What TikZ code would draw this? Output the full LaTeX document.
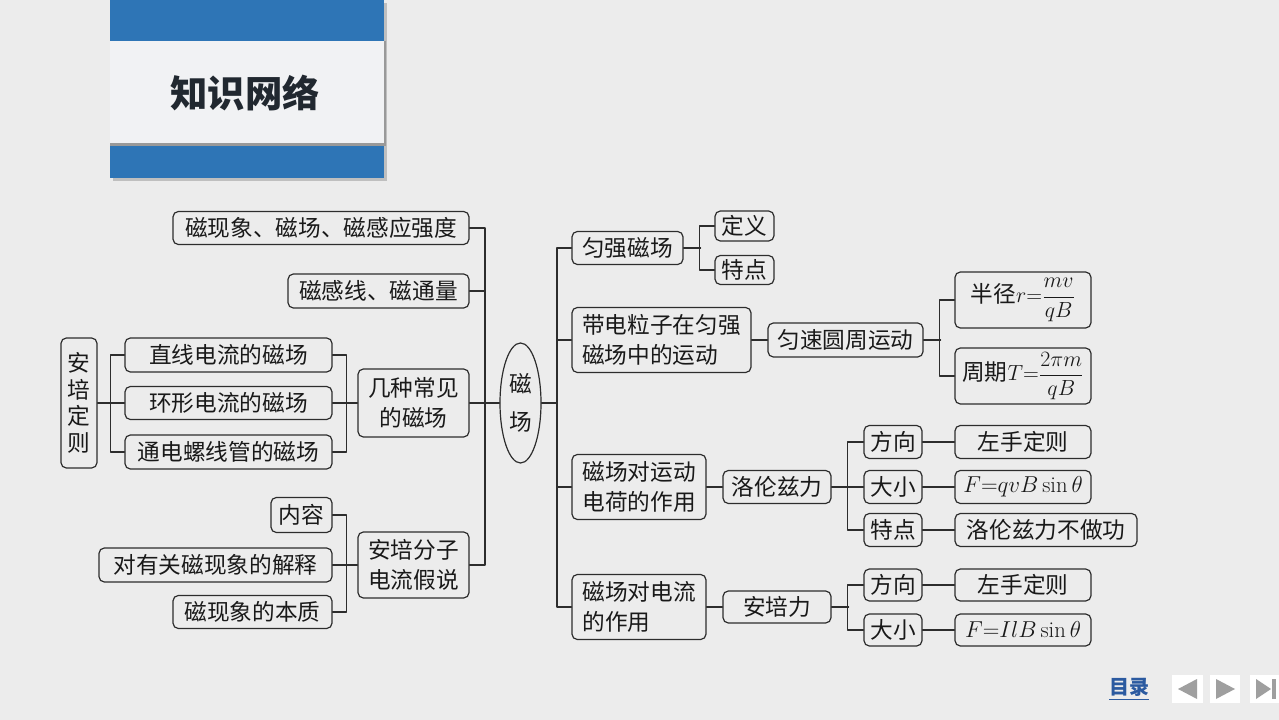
\documentclass[tikz,border=0pt]{standalone}
\usepackage{amsmath}
\usepackage{fontspec}
\newfontfamily\cjk{Noto Sans CJK SC}
\usetikzlibrary{shapes.geometric}

\definecolor{bgGray}{RGB}{236,236,236}
\definecolor{bannerBlue}{RGB}{46,117,182}
\definecolor{panelGray}{RGB}{241,242,244}
\definecolor{lineGray}{RGB}{45,45,45}
\definecolor{inkBlack}{RGB}{25,25,25}
\definecolor{titleInk}{RGB}{33,40,48}
\definecolor{navBlue}{RGB}{43,90,160}

\newcommand{\frm}[1]{\scalebox{0.95}{$#1$}}

\begin{document}
\begin{tikzpicture}[x=0.75pt, y=-0.75pt, line cap=round, line join=round,
  box/.style={draw=lineGray, line width=0.9pt, rounded corners=4pt, inner sep=0pt,
    font=\cjk\fontsize{17}{23}\selectfont, text=inkBlack},
  wd/.style={minimum width={#1*0.75pt}},
  ht/.style={minimum height={#1*0.75pt}},
  link/.style={draw=lineGray, line width=0.9pt}]

  % Page and margins
  \useasboundingbox (0,0) rectangle (1279,720);
  \fill[bgGray] (0,0) rectangle (1279,720);

  % Title banner
  \fill[black!25] (113,3) rectangle (387,181);
  \fill[bannerBlue] (110,0) rectangle (384,178);
  \fill[black!40] (110,41) rectangle (386,146);
  \fill[panelGray] (110,41) rectangle (384,143);
  \node[font=\cjk\bfseries\fontsize{28}{30}\selectfont, text=titleInk] (title) at (245,93) {知识网络};

  % Centre
  \node[box, ellipse, rounded corners=0pt, wd=41, ht=120, align=center,
    font=\cjk\fontsize{17}{28}\selectfont] (cc) at (520.5,403) {磁\\场};
  \coordinate (busL) at (485,403);
  \coordinate (busR) at (557,403);

  % Left branch
  \node[box, wd=296, ht=33] (xxcc) at (321,228) {磁现象、磁场、磁感应强度};
  \node[box, wd=181, ht=34] (gxl)  at (378.5,291) {磁感线、磁通量};
  \node[box, wd=111, ht=68, align=center] (jz) at (413.5,403) {几种常见\\的磁场};
  \node[box, wd=111, ht=66, align=center] (fz) at (413.5,565) {安培分子\\电流假说};

  \node[box, wd=207, ht=34] (zx) at (228.5,355) {直线电流的磁场};
  \node[box, wd=207, ht=33] (hx) at (228.5,403) {环形电流的磁场};
  \node[box, wd=207, ht=34] (lx) at (228.5,452) {通电螺线管的磁场};
  \node[box, wd=36, ht=130, align=center,
    font=\cjk\fontsize{17}{20}\selectfont] (apr) at (79,403) {安\\培\\定\\则};

  \node[box, wd=61,  ht=35] (nr)  at (301.5,515) {内容};
  \node[box, wd=233, ht=34] (jsh) at (215.5,565) {对有关磁现象的解释};
  \node[box, wd=159, ht=33] (bz)  at (252.5,612) {磁现象的本质};

  \draw[link] (xxcc.east) -- (xxcc.east -| busL) -- (fz.east -| busL) -- (fz.east);
  \draw[link] (gxl.east) -- (gxl.east -| busL);
  \draw[link] (jz.east) -- (cc.west);
  \draw[link] (apr.east) -- (hx.west);
  \draw[link] (zx.west) -- ++(-14,0) |- (lx.west);
  \draw[link] (zx.east) -- ++(14,0) |- (lx.east);
  \draw[link] (hx.east) -- (jz.west);
  \draw[link] (nr.east) -- ++(14,0) |- (bz.east);
  \draw[link] (jsh.east) -- (fz.west);

  % Right branch
  \node[box, wd=111, ht=33] (yq)  at (627.5,248) {匀强磁场};
  \node[box, wd=59,  ht=30] (dy)  at (744.5,226) {定义};
  \node[box, wd=59,  ht=29] (td)  at (744.5,270) {特点};

  \node[box, wd=179, ht=65, align=left] (ddl) at (661.5,340) {带电粒子在匀强\\磁场中的运动};
  \node[box, wd=155, ht=34] (ys) at (845.5,340) {匀速圆周运动};
  \node[box, wd=136, ht=56] (bj) at (1023,300) {半径\frm{r{=}\dfrac{mv}{qB}}};
  \node[box, wd=136, ht=56] (zq) at (1023,376) {周期\frm{T{=}\dfrac{2\pi m}{qB}}};

  \node[box, wd=134, ht=65, align=left] (yd) at (639,487) {磁场对运动\\电荷的作用};
  \node[box, wd=108, ht=33] (lz)   at (777,487) {洛伦兹力};
  \node[box, wd=58,  ht=33] (fx1)  at (893,442) {方向};
  \node[box, wd=58,  ht=33] (dx1)  at (893,487) {大小};
  \node[box, wd=58,  ht=33] (td2)  at (893,530) {特点};
  \node[box, wd=136, ht=33] (zsd1) at (1023,442) {左手定则};
  \node[box, wd=136, ht=33] (gs1)  at (1023,487) {$F{=}qvB\sin\theta$};
  \node[box, wd=182, ht=33] (bzg)  at (1046,530) {洛伦兹力不做功};

  \node[box, wd=134, ht=65, align=left] (dl) at (639,607) {磁场对电流\\的作用};
  \node[box, wd=108, ht=32] (apl)  at (777,607) {安培力};
  \node[box, wd=58,  ht=32] (fx2)  at (893,585) {方向};
  \node[box, wd=58,  ht=32] (dx2)  at (893,630) {大小};
  \node[box, wd=136, ht=32] (zsd2) at (1023,585) {左手定则};
  \node[box, wd=136, ht=32] (gs2)  at (1023,630) {$F{=}IlB\sin\theta$};

  \draw[link] (cc.east) -- (busR);
  \draw[link] (yq.west) -- (yq.west -| busR) -- (dl.west -| busR) -- (dl.west);
  \draw[link] (ddl.west) -- (ddl.west -| busR);
  \draw[link] (yd.west) -- (yd.west -| busR);
  \draw[link] (yq.east) -- ++(17,0);
  \draw[link] (dy.west) -- ++(-15,0) |- (td.west);
  \draw[link] (ddl.east) -- (ys.west);
  \draw[link] (ys.east) -- ++(17,0);
  \draw[link] (bj.west) -- ++(-15,0) |- (zq.west);
  \draw[link] (yd.east) -- (lz.west);
  \draw[link] (lz.east) -- (dx1.west);
  \draw[link] (fx1.west) -- ++(-16,0) |- (td2.west);
  \draw[link] (fx1.east) -- (zsd1.west);
  \draw[link] (dx1.east) -- (gs1.west);
  \draw[link] (td2.east) -- (bzg.west);
  \draw[link] (dl.east) -- (apl.west);
  \draw[link] (apl.east) -- ++(17,0);
  \draw[link] (fx2.west) -- ++(-16,0) |- (dx2.west);
  \draw[link] (fx2.east) -- (zsd2.west);
  \draw[link] (dx2.east) -- (gs2.west);

  % Navigation
  \node[font=\cjk\bfseries\fontsize{15}{17}\selectfont, text=navBlue] (mulu) at (1129,689) {\underline{目录}};
  \fill[white] (1172,675) rectangle (1203,703);
  \fill[gray!75] (1178,689) -- (1197,679) -- (1197,699) -- cycle;
  \fill[white] (1210,675) rectangle (1240,703);
  \fill[gray!75] (1216,679) -- (1235,689) -- (1216,699) -- cycle;
  \fill[white] (1250,675) rectangle (1279,703);
  \fill[gray!75] (1256,679) -- (1271,689) -- (1256,699) -- cycle;
  \fill[gray!75] (1272,679) rectangle (1276,699);

\end{tikzpicture}
\end{document}
